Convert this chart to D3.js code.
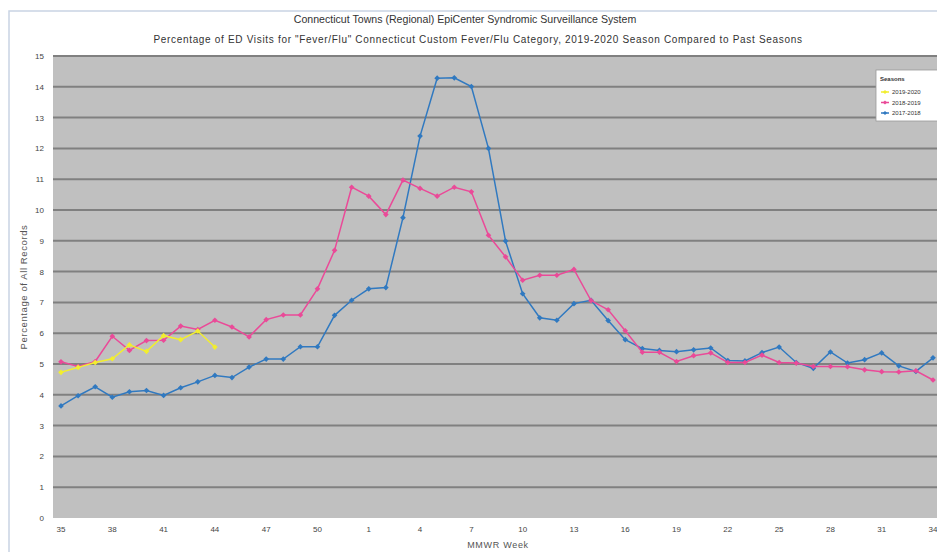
<!DOCTYPE html>
<html>
<head>
<meta charset="utf-8">
<script src="https://cdn.jsdelivr.net/npm/d3@7"></script>
<style>
  html, body { margin: 0; padding: 0; background: #fff; }
  svg { display: block; font-family: "Liberation Sans", Arial, sans-serif; }
</style>
</head>
<body>
<svg id="chart" width="937" height="552"></svg>
<script>
const title = "Connecticut Towns (Regional) EpiCenter Syndromic Surveillance System";
const subtitle = "Percentage of ED Visits for \"Fever/Flu\" Connecticut Custom Fever/Flu Category, 2019-2020 Season Compared to Past Seasons";
const yTitle = "Percentage of All Records";
const xTitle = "MMWR Week";

const weeks = [35,36,37,38,39,40,41,42,43,44,45,46,47,48,49,50,51,52,
  1,2,3,4,5,6,7,8,9,10,11,12,13,14,15,16,17,18,19,20,21,22,23,24,25,26,27,28,29,30,31,32,33,34];
const xTickWeeks = [35,38,41,44,47,50,1,4,7,10,13,16,19,22,25,28,31,34];
const yTicks = [0,1,2,3,4,5,6,7,8,9,10,11,12,13,14,15];

const seasonNames = ["2019-2020", "2018-2019", "2017-2018"];
const seasonColors = ["#f2ee2e", "#ea4a98", "#3079c0"];

const s2019_2020 = [4.73,4.89,5.05,5.17,5.62,5.41,5.92,5.79,6.07,5.55];
const s2018_2019 = [5.07,4.92,5.08,5.90,5.44,5.76,5.77,6.23,6.12,6.42,6.20,5.88,6.44,6.59,6.59,7.44,8.69,10.74,
  10.45,9.85,10.97,10.70,10.45,10.74,10.59,9.18,8.48,7.72,7.88,7.88,8.07,7.06,6.76,6.08,5.38,5.38,5.08,5.27,5.36,5.05,5.05,
  5.29,5.05,5.03,4.92,4.92,4.91,4.81,4.75,4.74,4.78,4.48];
const s2017_2018 = [3.64,3.97,4.26,3.92,4.10,4.14,3.98,4.23,4.42,4.63,4.56,4.90,5.16,5.16,5.56,5.56,6.58,7.07,
  7.44,7.48,9.75,12.40,14.28,14.29,14.01,12.0,8.99,7.28,6.50,6.42,6.96,7.07,6.41,5.79,5.50,5.44,5.40,5.46,5.52,5.11,5.10,
  5.37,5.55,5.05,4.86,5.39,5.03,5.14,5.36,4.94,4.76,5.20];

const seriesData = [s2019_2020, s2018_2019, s2017_2018];

const svg = d3.select("#chart");

// outer frame
svg.append("rect").attr("x", 9).attr("y", 11).attr("width", 940).attr("height", 560)
  .attr("fill", "#fff").attr("stroke", "#c9d4e4").attr("stroke-width", 1.5);

const plot = { left: 53, right: 945, top: 56, bottom: 518 };

const x = d3.scalePoint().domain(weeks.map(String)).range([61, 933]);
const y = d3.scaleLinear().domain([0, 15]).range([plot.bottom, plot.top]);

svg.append("rect").attr("x", plot.left).attr("y", plot.top)
  .attr("width", plot.right - plot.left).attr("height", plot.bottom - plot.top)
  .attr("fill", "#c0c0c0");

// gridlines
svg.append("g").selectAll("line").data(yTicks.filter(t => t > 0)).join("line")
  .attr("x1", plot.left).attr("x2", plot.right)
  .attr("y1", d => y(d)).attr("y2", d => y(d))
  .attr("stroke", "#808080").attr("stroke-width", 2);

// y tick labels
svg.append("g").selectAll("text").data(yTicks).join("text")
  .attr("x", 44).attr("y", d => y(d) + 3)
  .attr("text-anchor", "end").attr("font-size", 8).attr("fill", "#444")
  .text(d => d);

// x tick labels
svg.append("g").selectAll("text").data(xTickWeeks).join("text")
  .attr("x", d => x(String(d))).attr("y", 532)
  .attr("text-anchor", "middle").attr("font-size", 8).attr("fill", "#444")
  .text(d => d);

// titles
svg.append("text").attr("x", 465).attr("y", 23).attr("text-anchor", "middle")
  .attr("font-size", 10.6).attr("fill", "#333").text(title);
svg.append("text").attr("x", 478).attr("y", 43).attr("text-anchor", "middle")
  .attr("font-size", 10).attr("letter-spacing", 0.68).attr("fill", "#333").text(subtitle);
svg.append("text").attr("x", 498).attr("y", 548).attr("text-anchor", "middle")
  .attr("font-size", 9).attr("letter-spacing", 0.7).attr("fill", "#555").text(xTitle);
svg.append("text").attr("transform", "translate(27,287) rotate(-90)")
  .attr("text-anchor", "middle").attr("font-size", 9.5).attr("letter-spacing", 0.6)
  .attr("fill", "#555").text(yTitle);

// series (draw oldest first so newer on top)
const line = d3.line().x((d, i) => x(String(weeks[i]))).y(d => y(d));
[2, 1, 0].forEach(k => {
  const g = svg.append("g");
  g.append("path").datum(seriesData[k]).attr("d", line)
    .attr("fill", "none").attr("stroke", seasonColors[k]).attr("stroke-width", 1.5);
  g.selectAll("rect").data(seriesData[k]).join("rect")
    .attr("x", (d, i) => x(String(weeks[i])) - 2)
    .attr("y", d => y(d) - 2)
    .attr("width", 4).attr("height", 4)
    .attr("transform", (d, i) => `rotate(45 ${x(String(weeks[i]))} ${y(d)})`)
    .attr("fill", seasonColors[k]);
});

// legend
const lg = svg.append("g");
lg.append("rect").attr("x", 876).attr("y", 70).attr("width", 62).attr("height", 51)
  .attr("fill", "#fff").attr("stroke", "#999").attr("stroke-width", 0.8);
lg.append("text").attr("x", 880).attr("y", 81).attr("font-size", 6).attr("font-weight", "bold")
  .attr("fill", "#333").text("Seasons");
seasonNames.forEach((nm, i) => {
  const yy = 92 + i * 10.5;
  lg.append("line").attr("x1", 881).attr("x2", 889).attr("y1", yy).attr("y2", yy)
    .attr("stroke", seasonColors[i]).attr("stroke-width", 1.5);
  lg.append("rect").attr("x", 883.5).attr("y", yy - 1.5).attr("width", 3).attr("height", 3)
    .attr("transform", `rotate(45 885 ${yy})`).attr("fill", seasonColors[i]);
  lg.append("text").attr("x", 892).attr("y", yy + 2.2).attr("font-size", 6).attr("fill", "#333").text(nm);
});
</script>
</body>
</html>
